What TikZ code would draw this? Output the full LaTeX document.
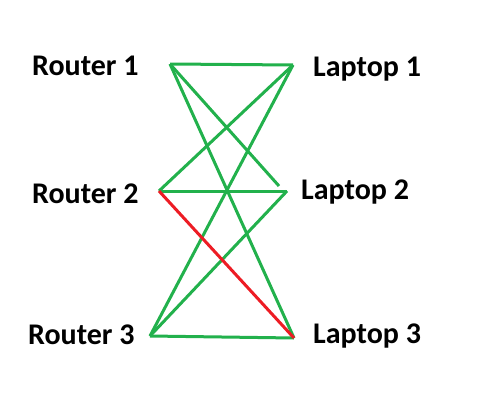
\documentclass[tikz,border=0pt]{standalone}
\usepackage{fontspec}
\setmainfont{Carlito}
\usetikzlibrary{positioning}
\definecolor{linkgreen}{RGB}{34,177,76}
\definecolor{linkred}{RGB}{237,28,36}

\begin{document}
\begin{tikzpicture}[
            x=1pt, y=-1pt,
            device/.style={anchor=base west, inner sep=0pt, font=\fontsize{30}{36}\selectfont\bfseries},
            link/.style={draw=linkgreen, line width=3pt},
            badlink/.style={draw=linkred, line width=3pt}
        ]
            \useasboundingbox (0,0) rectangle (492,412);

            % Routers
            \node[device] (router1) at (32,75) {Router 1};
            \node[device] (router2) at (32,203) {Router 2};
            \node[device] (router3) at (28,344) {Router 3};

            % Laptops
            \node[device] (laptop1) at (313,77) {Laptop 1};
            \node[device] (laptop2) at (301,199) {Laptop 2};
            \node[device] (laptop3) at (313,343) {Laptop 3};

            % Link ends
            \coordinate (r1) at (170,64);
            \coordinate (r2) at (159,191);
            \coordinate (r3) at (150,336);
            \coordinate (l1) at (293,65);
            \coordinate (l2) at (287,191);
            \coordinate (l2b) at (279,186);
            \coordinate (l3) at (294,338);

            % Links
            \draw[link] (r1) -- (l1);
            \draw[link] (r1) -- (l2b);
            \draw[link] (r1) -- (l3);
            \draw[link] (r2) -- (l1);
            \draw[link] (r2) -- (l2);
            \draw[link] (r3) -- (l1);
            \draw[link] (r3) -- (l2);
            \draw[link] (r3) -- (l3);
            \draw[badlink] (r2) -- (l3);

        \end{tikzpicture}
\end{document}
